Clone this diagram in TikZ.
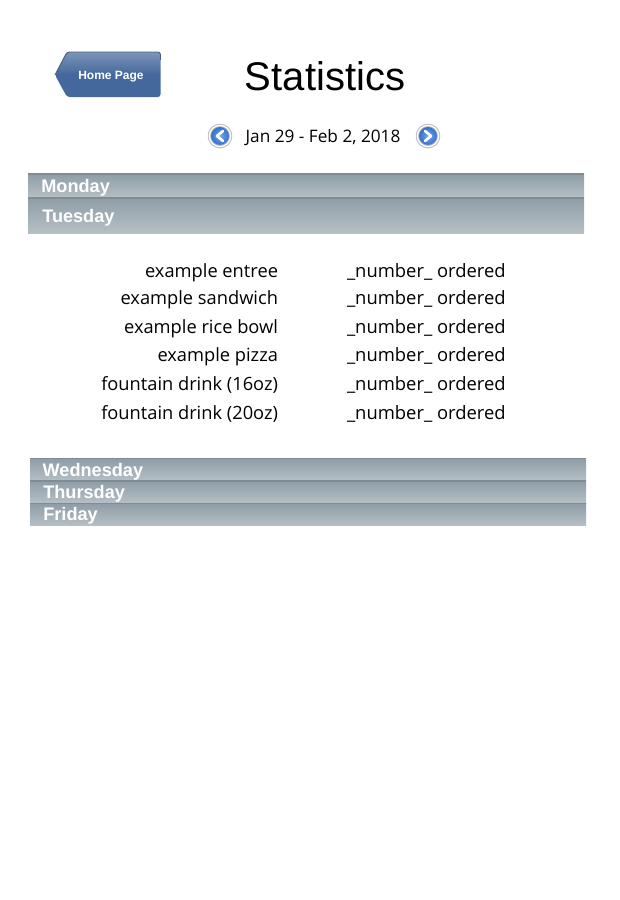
\documentclass[tikz,border=0pt]{standalone}
\usepackage{fontspec}
\setmainfont{Liberation Sans}
\newfontfamily\handfont{Open Sans}
\usetikzlibrary{
  positioning,
  calc
}
\definecolor{barTop}{HTML}{8E9DA7}
\definecolor{barBot}{HTML}{B6C0C5}
\definecolor{barLine}{HTML}{7F8C94}
\definecolor{btnTop}{HTML}{7E95B7}
\definecolor{btnMid}{HTML}{44689C}
\definecolor{btnEdge}{HTML}{4A5F80}
\definecolor{navBlue}{HTML}{2468D0}

\begin{document}
\begin{tikzpicture}[
  x=0.75pt, y=-0.75pt,
  every node/.style={inner sep=0pt, outer sep=0pt},
  bar/.style={anchor=north west, minimum width=417pt, top color=barTop, bottom color=barBot, text=white, font=\bfseries\fontsize{13.6pt}{15pt}\selectfont, align=left, text width=407pt, inner xsep=5pt, text height=10.5pt, text depth=1pt},
  dish/.style={anchor=east, text height=10.4pt, text depth=2.6pt, font=\handfont\fontsize{13.7pt}{15pt}\selectfont},
  count/.style={anchor=west, text height=10.4pt, text depth=2.6pt, font=\handfont\fontsize{13.8pt}{15pt}\selectfont},
  navring/.style={circle, draw=black!28, double=white, double distance=1pt, line width=0.7pt, minimum size=16pt},
  chev/.style={draw=white, line width=2pt, line cap=round, line join=round}
]
  \useasboundingbox (0,0) rectangle (620,900);

  % header
  \node[font=\fontsize{30pt}{34pt}\selectfont] (title) at (325,76.5) {Statistics};
  \path[top color=btnTop, bottom color=btnMid, middle color=btnMid, rounded corners=2pt]
    (55,75) -- (67,52) -- (160.5,52) -- (160.5,97) -- (67,97) -- cycle;
  \draw[btnEdge, line width=0.7pt, rounded corners=2pt] (55,75) -- (67,52) -- (160.5,52) -- (160.5,60);
  \node[text=white, font=\bfseries\fontsize{9pt}{11pt}\selectfont] (home) at (111,76.5) {Home Page};

  % date row
  \node[font=\handfont\fontsize{12.9pt}{14pt}\selectfont] (week) at (323,137.5) {Jan 29 - Feb 2, 2018};
  \node[navring, inner color=navBlue!60, outer color=navBlue] (prev) at (220,136) {};
  \node[navring, inner color=navBlue!60, outer color=navBlue] (next) at (428,136) {};
  \draw[chev] ($(prev)+(3,-5)$) -- ($(prev)+(-3,0)$) -- ($(prev)+(3,5)$);
  \draw[chev] ($(next)+(-3,-5)$) -- ($(next)+(3,0)$) -- ($(next)+(-3,5)$);

  % day bars
  \node[bar, minimum height=18pt] (mon) at (28,174) {\hspace{5pt}Monday};
  \node[bar, minimum height=26.5pt] (tue) at (28,198) {\hspace{5.7pt}Tuesday};
  \node[bar, minimum height=17pt] (wed) at (30,458.5) {\hspace{4.5pt}Wednesday};
  \node[bar, minimum height=16.5pt] (thu) at (30,481) {\hspace{5pt}Thursday};
  \node[bar, minimum height=16.5pt] (fri) at (30,503.5) {\hspace{5pt}Friday};
  \draw[barLine, line width=0.8pt] (mon.north west) -- (mon.north east);
  \draw[barLine, line width=0.8pt] (tue.north west) -- (tue.north east);
  \draw[barLine, line width=0.8pt] (wed.north west) -- (wed.north east);
  \draw[barLine, line width=0.8pt] (thu.north west) -- (thu.north east);
  \draw[barLine, line width=0.8pt] (fri.north west) -- (fri.north east);

  % tuesday orders
  \node[dish] (d1) at (278,272) {example entree};
  \node[dish] (d2) at (278,299) {example sandwich};
  \node[dish] (d3) at (278,328) {example rice bowl};
  \node[dish] (d4) at (278,356) {example pizza};
  \node[dish] (d5) at (278,385) {fountain drink (16oz)};
  \node[dish] (d6) at (278,414) {fountain drink (20oz)};
  \node[count] (c1) at (347,272) {\_number\_ ordered};
  \node[count] (c2) at (347,299) {\_number\_ ordered};
  \node[count] (c3) at (347,328) {\_number\_ ordered};
  \node[count] (c4) at (347,356) {\_number\_ ordered};
  \node[count] (c5) at (347,385) {\_number\_ ordered};
  \node[count] (c6) at (347,414) {\_number\_ ordered};
\end{tikzpicture}
\end{document}
